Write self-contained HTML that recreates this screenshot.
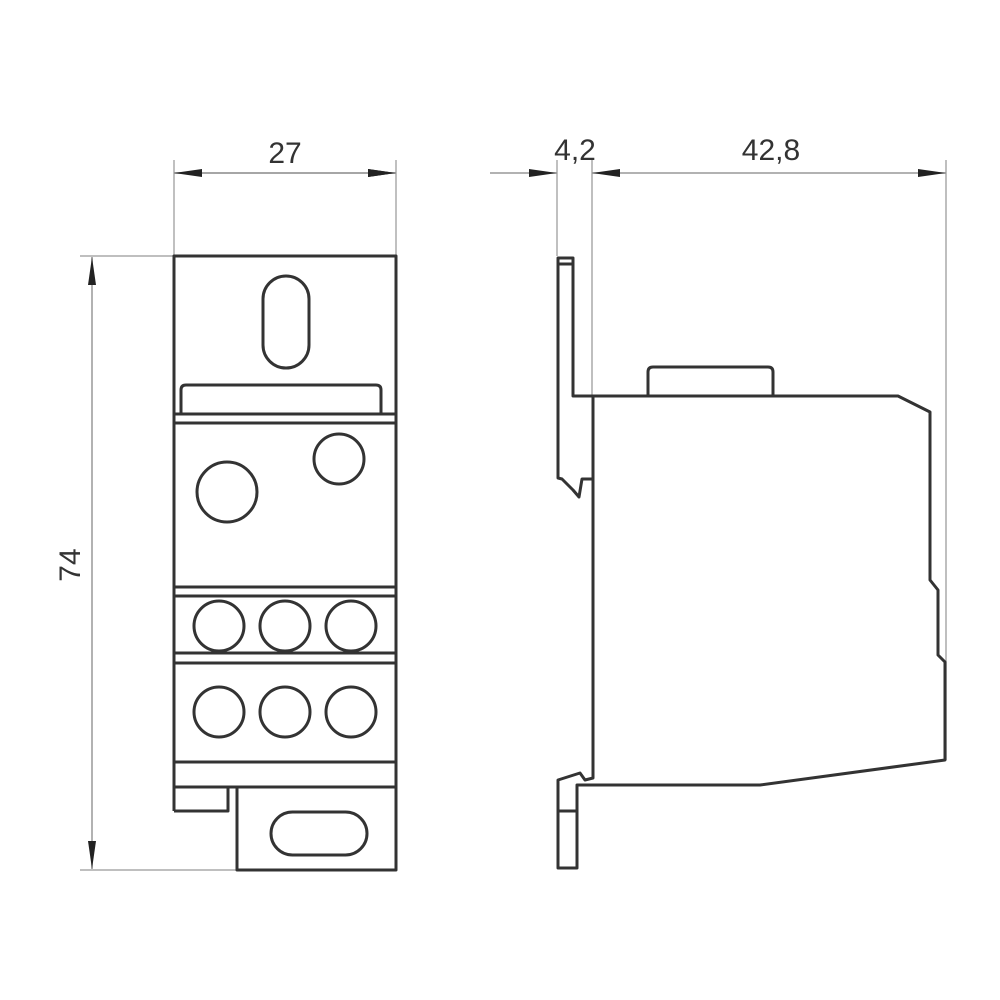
<!DOCTYPE html>
<html><head><style>html,body{margin:0;padding:0;background:#fff}svg{display:block}</style></head>
<body>
<svg width="1000" height="1000" viewBox="0 0 1000 1000" xmlns="http://www.w3.org/2000/svg">
<defs>
<marker id="a" markerWidth="28" markerHeight="8" refX="28" refY="4" orient="auto" markerUnits="userSpaceOnUse"><path d="M0,0 L28,4 L0,8 Z" fill="#222"/></marker>
</defs>
<g stroke="#aaa" stroke-width="1.5" fill="none">
<line x1="174" y1="160" x2="174" y2="256"/>
<line x1="396" y1="160" x2="396" y2="256"/>
<line x1="80" y1="256" x2="174" y2="256"/>
<line x1="80" y1="870" x2="237" y2="870"/>
<line x1="557" y1="160" x2="557" y2="256"/>
<line x1="592" y1="160" x2="592" y2="396"/>
<line x1="946" y1="160" x2="946" y2="760"/>
</g>
<g stroke="#999" stroke-width="1.5" fill="none">
<line x1="174" y1="173" x2="396" y2="173" marker-start="url(#a)" marker-end="url(#a)" style="marker-start:none"/>
<line x1="285" y1="173" x2="174" y2="173" marker-end="url(#a)"/>
<line x1="285" y1="173" x2="396" y2="173" marker-end="url(#a)"/>
<line x1="92" y1="560" x2="92" y2="257" marker-end="url(#a)"/>
<line x1="92" y1="560" x2="92" y2="869" marker-end="url(#a)"/>
<line x1="490" y1="173" x2="557" y2="173" marker-end="url(#a)"/>
<line x1="700" y1="173" x2="592" y2="173" marker-end="url(#a)"/>
<line x1="700" y1="173" x2="946" y2="173" marker-end="url(#a)"/>
</g>
<g font-family="Liberation Sans, sans-serif" font-size="30" fill="#333" text-anchor="middle">
<text x="285" y="163">27</text>
<text x="575" y="160">4,2</text>
<text x="771" y="160">42,8</text>
<text x="0" y="0" transform="translate(80,565) rotate(-90)">74</text>
</g>
<g stroke="#333" stroke-width="3" fill="none" stroke-linejoin="round">
<!-- front view -->
<path d="M174,811 L174,256 L396,256 L396,870 L237,870 L237,787"/>
<path d="M174,811 L228,811 L228,787"/>
<line x1="174" y1="787" x2="396" y2="787"/>
<line x1="174" y1="762" x2="396" y2="762"/>
<line x1="174" y1="414" x2="396" y2="414"/>
<line x1="174" y1="423" x2="396" y2="423"/>
<line x1="174" y1="587" x2="396" y2="587"/>
<line x1="174" y1="596" x2="396" y2="596"/>
<line x1="174" y1="653" x2="396" y2="653"/>
<line x1="174" y1="663" x2="396" y2="663"/>
<path d="M181,414 L181,390 Q181,385 186,385 L376,385 Q381,385 381,390 L381,414"/>
<rect x="263" y="276" width="46" height="92" rx="23"/>
<rect x="271" y="812" width="96" height="43" rx="21.5"/>
<circle cx="227" cy="492" r="30"/>
<circle cx="339" cy="459" r="25"/>
<circle cx="219" cy="626" r="25"/><circle cx="285" cy="626" r="25"/><circle cx="351" cy="626" r="25"/>
<circle cx="219" cy="712" r="25"/><circle cx="285" cy="712" r="25"/><circle cx="351" cy="712" r="25"/>
<!-- side view -->
<path d="M558,478 L558,258 L573,258 L573,396 L898,396 L930,412 L930,580 L938,590 L938,655 L945,662 L945,760 L760,785 L577,785 L577,868 L558,868 L558,780 L580,773 L585,780 L593,778 L593,479 L582,479 L579,497 L573,490 L562,479 Z"/>
<line x1="558" y1="264" x2="573" y2="264"/>
<line x1="593" y1="396" x2="593" y2="479"/>
<line x1="558" y1="811" x2="577" y2="811"/>
<path d="M648,396 L648,372 Q648,367 653,367 L768,367 Q773,367 773,372 L773,396"/>
</g>
</svg>
</body></html>
